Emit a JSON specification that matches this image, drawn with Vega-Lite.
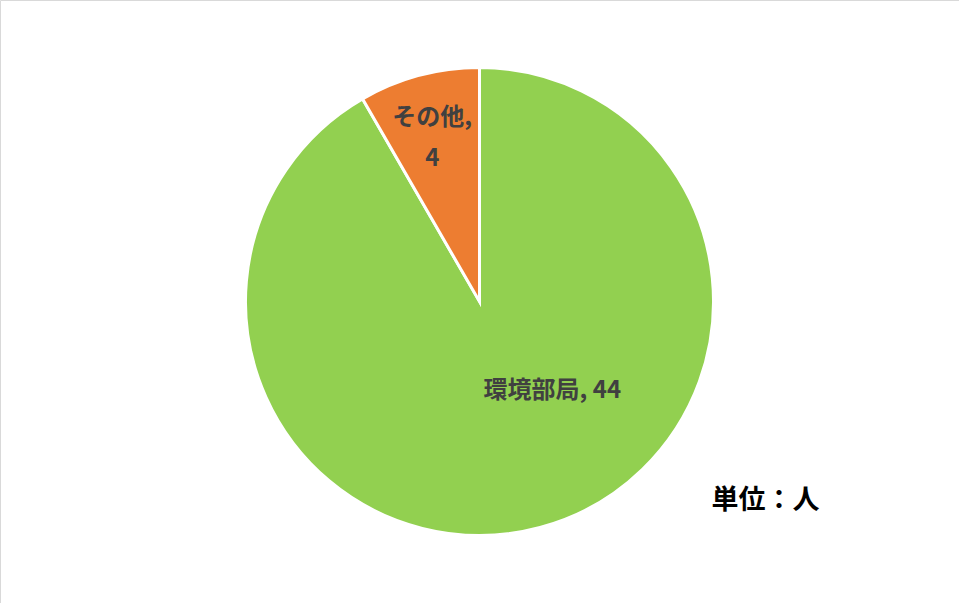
{
  "$schema": "https://vega.github.io/schema/vega-lite/v6.json",
  "width": 959,
  "height": 603,
  "autosize": {"type": "fit", "contains": "padding"},
  "padding": 0,
  "background": "white",
  "view": {"stroke": "#d9d9d9", "strokeWidth": 1},
  "data": {"values": [
    {"category": "環境部局", "value": 44, "label": "環境部局, 44"},
    {"category": "その他", "value": 4, "label": ["その他,", "4"]}
  ]},
  "encoding": {
    "theta": {"field": "value", "type": "quantitative", "stack": true},
    "order": {"field": "value", "type": "quantitative", "sort": "descending"}
  },
  "layer": [
    {
      "mark": {"type": "arc", "outerRadius": 234, "stroke": "white", "strokeWidth": 3},
      "encoding": {
        "color": {
          "field": "category", "type": "nominal",
          "scale": {"domain": ["環境部局", "その他"], "range": ["#92D050", "#ED7D31"]},
          "legend": null
        }
      }
    },
    {
      "mark": {"type": "text", "radius": 115, "dx": 43, "dy": -22, "font": "Noto Sans CJK JP", "fontWeight": "bold", "fontSize": 24, "fill": "#404040"},
      "encoding": {"text": {"condition": {"test": "datum.category === '環境部局'", "field": "label"}, "value": ""}}
    },
    {
      "mark": {"type": "text", "radius": 171, "dx": -3, "dy": -18, "lineHeight": 41, "font": "Noto Sans CJK JP", "fontWeight": "bold", "fontSize": 24, "fill": "#404040"},
      "encoding": {"text": {"condition": {"test": "datum.category === 'その他'", "field": "label"}, "value": ""}}
    },
    {
      "data": {"values": [{"note": "単位：人"}]},
      "mark": {"type": "text", "dx": 286, "dy": 199, "font": "Noto Sans CJK JP", "fontWeight": "bold", "fontSize": 27, "fill": "#000000"},
      "encoding": {"text": {"field": "note"}, "theta": null, "order": null}
    }
  ]
}
